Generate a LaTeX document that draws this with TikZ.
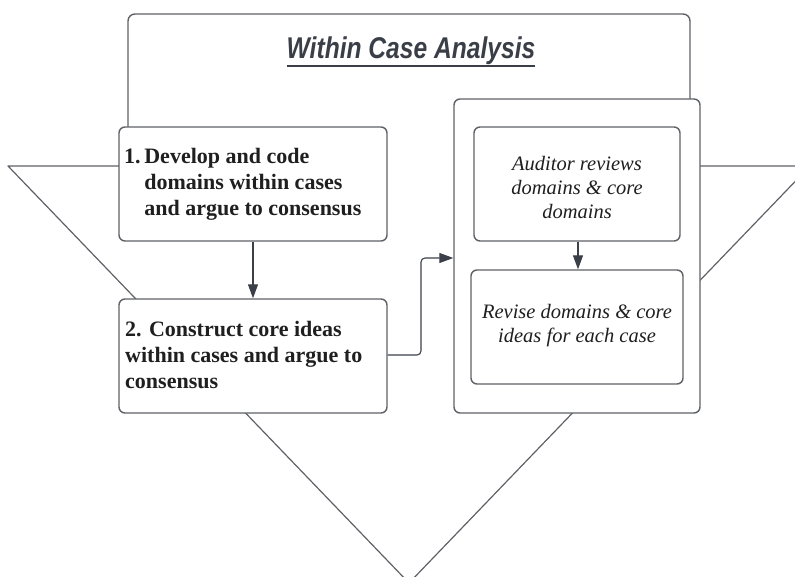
\documentclass[tikz,border=0pt]{standalone}
\usepackage{fontspec}
\setmainfont{Liberation Serif}
\newfontfamily\titlefont[FakeStretch=0.82]{Liberation Sans}
\usetikzlibrary{arrows.meta}
\definecolor{edge}{HTML}{5E6166}
\definecolor{ink}{HTML}{1F1F1F}
\definecolor{headink}{HTML}{3A3F47}
\definecolor{arrowink}{HTML}{3A3F48}
\tikzset{
  card/.style={draw=edge, line width=1.4pt, fill=white, rounded corners=6pt, inner sep=0pt},
  flow/.style={draw=arrowink, line width=1.1pt, -{Triangle[length=14pt,width=10pt]}},
  boldtext/.style={text=ink, font=\bfseries\fontsize{22}{26}\selectfont, align=left, inner sep=0pt},
  slanttext/.style={text=ink, font=\itshape\fontsize{20.5}{24}\selectfont, align=center, inner sep=0pt},
}
\begin{document}
\begin{tikzpicture}[x=1pt,y=-1pt]
\useasboundingbox (0,0) rectangle (795,577);

% large inverted triangle behind everything
\draw[edge, line width=1.2pt, line join=round] (8,166) -- (810,166) -- (409,583) -- cycle;

% heading panel: white body covering the triangle's top edge, open at the bottom
\fill[white] (128,14) rectangle (690,200);
\draw[edge, line width=1.4pt, rounded corners=7pt] (128,130) -- (128,14) -- (690,14) -- (690,101);
\node[text=headink, inner sep=0pt, font=\titlefont\bfseries\itshape\fontsize{30}{32}\selectfont] (title) at (411,51) {Within Case Analysis};
\draw[headink, line width=2pt] (title.west |- 0,66.5) -- (title.east |- 0,66.5);

% left column
\node[card, minimum width=268pt, minimum height=114pt] (b1) at (253,184) {};
\node[boldtext, anchor=west] (t1) at (124,184)
  {\begin{tabular}{@{}l@{\,}l@{}}1. & Develop and code\\ & domains within cases\\ & and argue to consensus\end{tabular}};
\node[card, minimum width=268pt, minimum height=114pt] (b2) at (253,356) {};
\node[boldtext, anchor=west] (t2) at (125,355)
  {2. Construct core ideas\\within cases and argue to\\consensus};

% right column
\node[card, minimum width=246pt, minimum height=314pt] (cont) at (577,256) {};
\node[card, minimum width=206pt, minimum height=114pt] (ba) at (577,184) {};
\node[slanttext] (ta) at (577,187) {Auditor reviews\\domains \& core\\domains};
\node[card, minimum width=212pt, minimum height=114pt] (bb) at (577,327) {};
\node[slanttext] (tb) at (577,326) {Revise domains \& core\\ideas for each case};

% connectors
\draw[flow] (b1.south) -- (b2.north);
\draw[flow] ([xshift=1pt]ba.south) -- ([xshift=1pt]ba.south |- bb.north);
\draw[flow, rounded corners=4pt] (b2.east |- 0,355) -- (421,355) -- (421,258) -- (cont.west |- 0,258);
\end{tikzpicture}
\end{document}
